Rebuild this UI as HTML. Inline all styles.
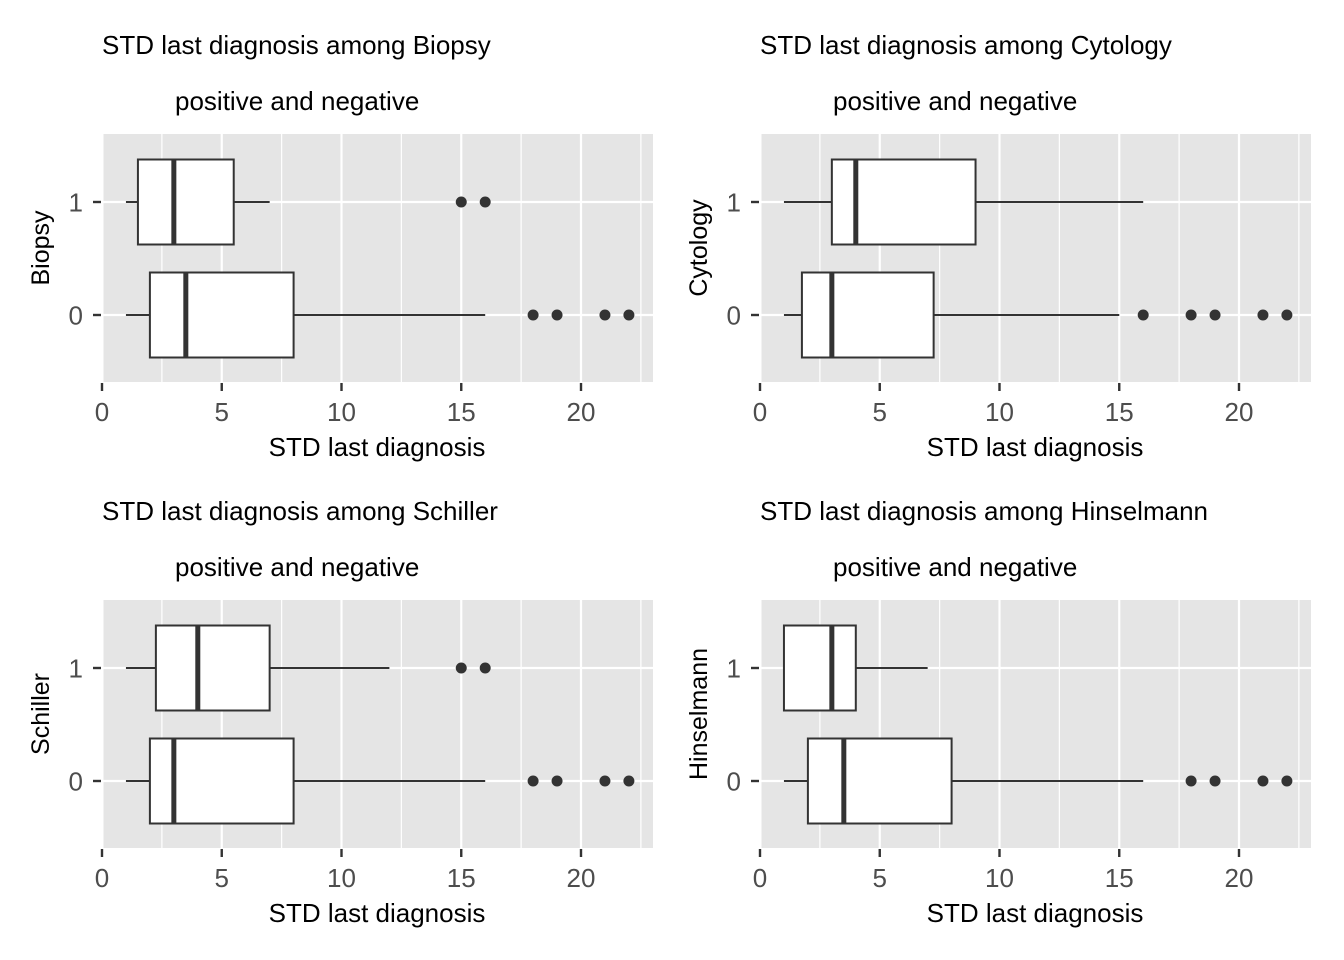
<!DOCTYPE html>
<html><head><meta charset="utf-8"><style>
html,body{margin:0;padding:0;background:#fff;}
svg{display:block;font-family:"Liberation Sans",Arial,sans-serif;}
</style></head><body>
<svg id="chart" width="1344" height="960" viewBox="0 0 1344 960" xmlns="http://www.w3.org/2000/svg"></svg>
<script>
const panelNames = ["Biopsy","Cytology","Schiller","Hinselmann"];
const categories = ["0","1"];
const xTicks = [0,5,10,15,20];
// each stat: [whiskerLow, q1, median, q3, whiskerHigh]
const biopsyStats = [[1,2,3.5,8,16],[1,1.5,3,5.5,7]];
const biopsyOutliers = [[18,19,21,22],[15,16]];
const cytologyStats = [[1,1.75,3,7.25,15],[1,3,4,9,16]];
const cytologyOutliers = [[16,18,19,21,22],[]];
const schillerStats = [[1,2,3,8,16],[1,2.25,4,7,12]];
const schillerOutliers = [[18,19,21,22],[15,16]];
const hinselmannStats = [[1,2,3.5,8,16],[1,1,3,4,7]];
const hinselmannOutliers = [[18,19,21,22],[]];
const allStats=[biopsyStats,cytologyStats,schillerStats,hinselmannStats];
const allOut=[biopsyOutliers,cytologyOutliers,schillerOutliers,hinselmannOutliers];

const svg=document.getElementById('chart');
const NS="http://www.w3.org/2000/svg";
function mk(tag,attrs,parent){const e=document.createElementNS(NS,tag);for(const k in attrs)e.setAttribute(k,attrs[k]);parent.appendChild(e);return e;}

const origins=[[102,134],[760,134],[102,600],[760,600]];
const PW=551,PH=248,unit=23.95;
panelNames.forEach((name,p)=>{
  const [ox,oy]=origins[p];
  const g=mk('g',{},svg);
  
  
  const xs=v=>ox+v*unit;
  const ys=c=>oy+181-Number(c)*113;
  const bg=mk('rect',{x:ox+1.5,y:oy,width:PW-1.5,height:PH,fill:'#e5e5e5'},g);
  
  
  for(let v=2.5;v<23;v+=5){mk('line',{x1:xs(v),x2:xs(v),y1:oy,y2:oy+PH,stroke:'#fff','stroke-width':1.2},g);}
  xTicks.forEach(v=>{mk('line',{x1:xs(v),x2:xs(v),y1:oy,y2:oy+PH,stroke:'#fff','stroke-width':2.2},g);});
  categories.forEach(c=>{mk('line',{x1:ox,x2:ox+PW,y1:ys(c),y2:ys(c),stroke:'#fff','stroke-width':2.2},g);});
  const st=allStats[p],out=allOut[p];
  categories.forEach((c,i)=>{
    const s=st[i],y=ys(c),h=42.5;
    const bx=mk('g',{},g);
    
    
    mk('line',{x1:xs(s[0]),x2:xs(s[1]),y1:y,y2:y,stroke:'#333','stroke-width':2},bx);
    mk('line',{x1:xs(s[3]),x2:xs(s[4]),y1:y,y2:y,stroke:'#333','stroke-width':2},bx);
    mk('rect',{x:xs(s[1]),y:y-h,width:xs(s[3])-xs(s[1]),height:2*h,fill:'#fff',stroke:'#333','stroke-width':2},bx);
    mk('line',{x1:xs(s[2]),x2:xs(s[2]),y1:y-h,y2:y+h,stroke:'#333','stroke-width':5},bx);
    out[i].forEach(v=>{
      const d=mk('circle',{cx:xs(v),cy:y,r:5.5,fill:'#333'},bx);
      
      
    });
    mk('line',{x1:ox-9,x2:ox-1,y1:y,y2:y,stroke:'#333','stroke-width':2.4},g);
    const t=mk('text',{x:ox-19,y:y+9.5,'text-anchor':'end','font-size':26,fill:'#4d4d4d'},g);
    t.textContent=c;
    
    
  });
  xTicks.forEach(v=>{
    mk('line',{x1:xs(v),x2:xs(v),y1:oy+PH+1,y2:oy+PH+9,stroke:'#333','stroke-width':2.4},g);
    const t=mk('text',{x:xs(v),y:oy+PH+39,'text-anchor':'middle','font-size':26,fill:'#4d4d4d'},g);
    t.textContent=v;
    
    
  });
  const xt=mk('text',{x:ox+275,y:oy+PH+74,'text-anchor':'middle','font-size':26,fill:'#000'},g);
  xt.textContent='STD last diagnosis';
  
  
  const yt=mk('text',{x:0,y:0,'text-anchor':'middle','font-size':25,fill:'#000',transform:`translate(${ox-53},${oy+PH/2-10}) rotate(-90)`},g);
  yt.textContent=name;
  
  
  const t1=mk('text',{x:ox,y:oy-80,'font-size':26,fill:'#000'},g);
  t1.textContent='STD last diagnosis among '+name;
  
  
  const t2=mk('text',{x:ox+73,y:oy-24,'font-size':26,fill:'#000'},g);
  t2.textContent='positive and negative';
  
  
});
</script>
</body></html>
